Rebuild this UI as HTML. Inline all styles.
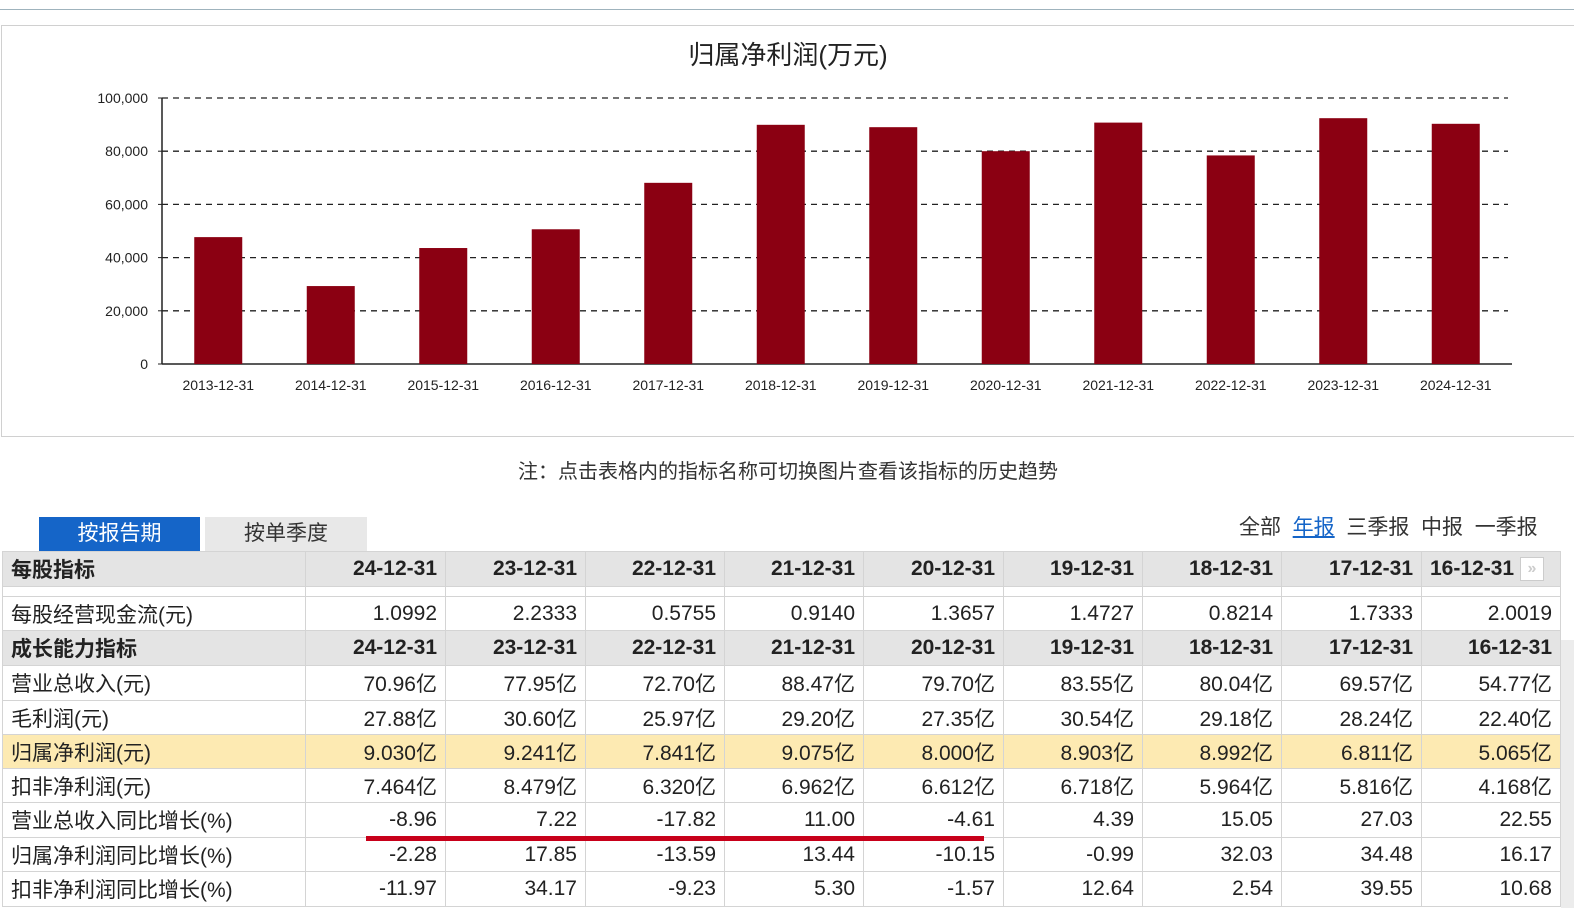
<!DOCTYPE html>
<html><head><meta charset="utf-8">
<style>
body{margin:0;width:1574px;height:908px;overflow:hidden;background:#fff;font-family:"Liberation Sans","Noto Sans CJK SC",sans-serif;position:relative}
.abs{position:absolute}
table{position:absolute;left:2px;top:551px;border-collapse:collapse;table-layout:fixed;font-size:21px;color:#222}
td{border:1px solid #d4d4d4;padding:0 8px;text-align:right;white-space:nowrap;overflow:hidden}
td:first-child{text-align:left;padding-left:8px}
tr.hd td{background:#e4e4e4;font-weight:bold}
tr.hl td{background:#fdeab2}
</style></head><body>
<div class="abs" style="left:0;top:9px;width:1574px;height:1px;background:#9fb3bd"></div>
<div class="abs" style="left:1px;top:25px;width:1580px;height:410px;border:1px solid #d0d0d0"></div>
<svg class="abs" style="left:0;top:0" width="1574" height="440">
<text x="788" y="64" text-anchor="middle" font-size="26" fill="#222">归属净利润(万元)</text>
<g id="grid"></g><g id="bars"></g><g id="xl"></g>
</svg>
<div class="abs" style="left:0;width:1576px;top:455px;text-align:center;font-size:20px;color:#333">注：点击表格内的指标名称可切换图片查看该指标的历史趋势</div>
<div class="abs" style="left:39px;top:517px;width:161px;height:34px;background:#1565c8;color:#fff;font-size:21px;line-height:34px;text-align:center">按报告期</div>
<div class="abs" style="left:205px;top:517px;width:162px;height:34px;background:#e8e8e8;color:#333;font-size:21px;line-height:34px;text-align:center">按单季度</div>
<div class="abs" style="left:1239px;top:511px;font-size:21px;color:#333;white-space:nowrap">
<span>全部</span>&nbsp;
<span style="color:#1565c8;text-decoration:underline">年报</span>&nbsp;
<span>三季报</span>&nbsp;
<span>中报</span>&nbsp;
<span>一季报</span></div>
<table>
<colgroup><col style="width:303px"><col style="width:140px"><col style="width:140px"><col style="width:139px"><col style="width:139px"><col style="width:140px"><col style="width:139px"><col style="width:139px"><col style="width:140px"><col style="width:139px"></colgroup>
<tr class="hd" style="height:35px"><td>每股指标</td><td>24-12-31</td><td>23-12-31</td><td>22-12-31</td><td>21-12-31</td><td>20-12-31</td><td>19-12-31</td><td>18-12-31</td><td>17-12-31</td><td style="text-align:left">16-12-31 <span style="display:inline-block;width:22px;height:22px;border:1px solid #ccc;background:#fff;color:#ccc;font-size:16px;line-height:22px;text-align:center;vertical-align:middle">»</span></td></tr>
<tr style="height:10px"><td></td><td></td><td></td><td></td><td></td><td></td><td></td><td></td><td></td><td></td></tr>
<tr style="height:34px"><td>每股经营现金流(元)</td><td>1.0992</td><td>2.2333</td><td>0.5755</td><td>0.9140</td><td>1.3657</td><td>1.4727</td><td>0.8214</td><td>1.7333</td><td>2.0019</td></tr>
<tr class="hd" style="height:35px"><td>成长能力指标</td><td>24-12-31</td><td>23-12-31</td><td>22-12-31</td><td>21-12-31</td><td>20-12-31</td><td>19-12-31</td><td>18-12-31</td><td>17-12-31</td><td>16-12-31</td></tr>
<tr style="height:35px"><td>营业总收入(元)</td><td>70.96亿</td><td>77.95亿</td><td>72.70亿</td><td>88.47亿</td><td>79.70亿</td><td>83.55亿</td><td>80.04亿</td><td>69.57亿</td><td>54.77亿</td></tr>
<tr style="height:34px"><td>毛利润(元)</td><td>27.88亿</td><td>30.60亿</td><td>25.97亿</td><td>29.20亿</td><td>27.35亿</td><td>30.54亿</td><td>29.18亿</td><td>28.24亿</td><td>22.40亿</td></tr>
<tr class="hl" style="height:34px"><td>归属净利润(元)</td><td>9.030亿</td><td>9.241亿</td><td>7.841亿</td><td>9.075亿</td><td>8.000亿</td><td>8.903亿</td><td>8.992亿</td><td>6.811亿</td><td>5.065亿</td></tr>
<tr style="height:34px"><td>扣非净利润(元)</td><td>7.464亿</td><td>8.479亿</td><td>6.320亿</td><td>6.962亿</td><td>6.612亿</td><td>6.718亿</td><td>5.964亿</td><td>5.816亿</td><td>4.168亿</td></tr>
<tr style="height:35px"><td>营业总收入同比增长(%)</td><td>-8.96</td><td>7.22</td><td>-17.82</td><td>11.00</td><td>-4.61</td><td>4.39</td><td>15.05</td><td>27.03</td><td>22.55</td></tr>
<tr style="height:34px"><td>归属净利润同比增长(%)</td><td>-2.28</td><td>17.85</td><td>-13.59</td><td>13.44</td><td>-10.15</td><td>-0.99</td><td>32.03</td><td>34.48</td><td>16.17</td></tr>
<tr style="height:35px"><td>扣非净利润同比增长(%)</td><td>-11.97</td><td>34.17</td><td>-9.23</td><td>5.30</td><td>-1.57</td><td>12.64</td><td>2.54</td><td>39.55</td><td>10.68</td></tr>
</table>
<div class="abs" style="left:366px;top:836px;width:618px;height:5px;background:#c8001a"></div>
<div class="abs" style="left:1561px;top:640px;width:13px;height:268px;background:#ececec"></div>
<script>
const categories=["2013-12-31","2014-12-31","2015-12-31","2016-12-31","2017-12-31","2018-12-31","2019-12-31","2020-12-31","2021-12-31","2022-12-31","2023-12-31","2024-12-31"];
const profitValues=[47700,29300,43600,50650,68110,89920,89030,80000,90750,78410,92410,90300];
const yTicks=[0,20000,40000,60000,80000,100000];
const NS="http://www.w3.org/2000/svg";
const x0=162,x1=1512,yb=364,yt=98,yMax=100000;
const y=v=>yb-(v/yMax)*(yb-yt);
const bw=(x1-x0)/categories.length;
const xc=i=>x0+bw*(i+0.5);
function mk(t,a,p){const e=document.createElementNS(NS,t);for(const k in a)e.setAttribute(k,a[k]);p.appendChild(e);return e;}
const g=document.getElementById('grid'),b=document.getElementById('bars'),xl=document.getElementById('xl');
yTicks.forEach(v=>{
 if(v>0){const l=mk('line',{x1:x0,x2:1508,y1:y(v),y2:y(v),stroke:'#222','stroke-width':1.3,'stroke-dasharray':'6,5'},g);
 
 }
 const tk=mk('line',{x1:x0-4,x2:x0,y1:y(v),y2:y(v),stroke:'#222'},g);
 
 
 const t=mk('text',{x:148,y:y(v)+5,'text-anchor':'end','font-size':14,fill:'#222'},g);
 t.textContent=v.toLocaleString('en-US');
 
 
});
const ya=mk('line',{x1:x0,x2:x0,y1:yt,y2:yb,stroke:'#222','stroke-width':1.5},g);


const xa=mk('line',{x1:x0,x2:x1,y1:yb,y2:yb,stroke:'#222','stroke-width':1.5},g);


categories.forEach((c,i)=>{
 const r=mk('rect',{x:xc(i)-24,y:y(profitValues[i]),width:48,height:yb-y(profitValues[i]),fill:'#8b0012'},b);
 
 
 const t=mk('text',{x:xc(i),y:390,'text-anchor':'middle','font-size':14,fill:'#222'},xl);
 t.textContent=c;
 
 
});
</script>
</body></html>
